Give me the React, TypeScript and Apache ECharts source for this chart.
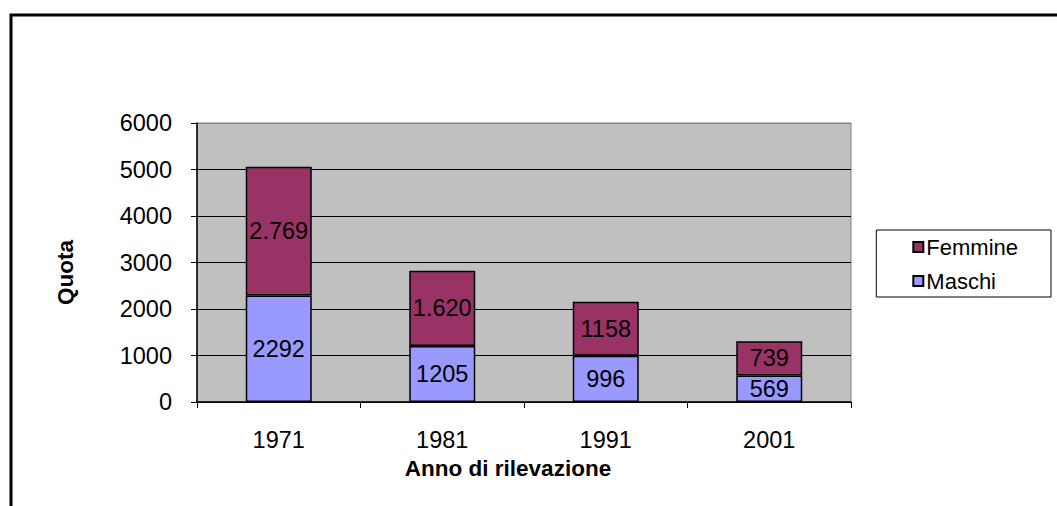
import React, { useEffect, useRef } from "react";
import * as echarts from "echarts";

const categories = ["1971", "1981", "1991", "2001"];
const maschi = [2292, 1205, 996, 569];
const femmine = [2769, 1620, 1158, 739];
const maschiLabels = ["2292", "1205", "996", "569"];
const femmineLabels = ["2.769", "1.620", "1158", "739"];
const yTicks = { min: 0, max: 6000, interval: 1000 };

const FONT = "'Liberation Sans', Arial, sans-serif";

export default function App() {
  const ref = useRef<HTMLDivElement>(null);
  useEffect(() => {
    const chart = echarts.init(ref.current!, null, { renderer: "svg" });
    chart.setOption({
      animation: false,
      backgroundColor: "#fff",
      textStyle: { fontFamily: FONT },
      graphic: [
        {
          type: "rect",
          shape: { x: 11, y: 15, width: 1100, height: 600 },
          style: { fill: "none", stroke: "#000", lineWidth: 3 },
          z: 100,
        },
      ],
      grid: {
        left: 197,
        right: 206,
        top: 123,
        bottom: 104,
        show: true,
        backgroundColor: "#C0C0C0",
        borderColor: "#808080",
        borderWidth: 1,
      },
      legend: {
        orient: "vertical",
        right: 6,
        top: 230,
        data: ["Femmine", "Maschi"],
        itemWidth: 10,
        itemHeight: 10,
        itemGap: 12,
        padding: [6, 33, 5, 36],
        borderColor: "#000",
        borderWidth: 1,
        icon: "rect",
        textStyle: { fontSize: 22, color: "#000", fontFamily: FONT, padding: [0, 0, 0, -2] },
      },
      xAxis: {
        type: "category",
        data: categories,
        name: "Anno di rilevazione",
        nameLocation: "middle",
        nameGap: 55,
        nameTextStyle: {
          fontSize: 22.5,
          fontWeight: "bold",
          color: "#000",
          fontFamily: FONT,
          padding: [0, 32, 0, 0],
        },
        axisLine: { lineStyle: { color: "#000", width: 1.5 } },
        axisTick: { show: true, length: 6, lineStyle: { color: "#000" } },
        axisLabel: { fontSize: 23.5, color: "#000", margin: 26, fontFamily: FONT },
      },
      yAxis: {
        type: "value",
        min: yTicks.min,
        max: yTicks.max,
        interval: yTicks.interval,
        name: "Quota",
        nameLocation: "middle",
        nameGap: 120,
        nameTextStyle: {
          fontSize: 22.5,
          fontWeight: "bold",
          color: "#000",
          fontFamily: FONT,
          padding: [0, 20, 0, 0],
        },
        axisLine: { show: true, lineStyle: { color: "#000", width: 1.5 } },
        axisTick: { show: true, length: 6, lineStyle: { color: "#000" } },
        axisLabel: {
          fontSize: 23.5,
          color: "#000",
          margin: 25,
          fontFamily: FONT,
          formatter: (v: number) => String(v),
        },
        splitLine: {
          show: true,
          lineStyle: { color: ["#000", "#000", "#000", "#000", "#000", "#000", "#808080"], width: 1 },
        },
      },
      series: [
        {
          name: "Maschi",
          type: "bar",
          stack: "tot",
          data: maschi,
          barWidth: 66,
          itemStyle: { color: "#9999FF", borderColor: "#000", borderWidth: 1.5 },
          label: {
            show: true,
            position: "inside",
            color: "#000",
            fontSize: 23.5,
            fontFamily: FONT,
            formatter: (p: any) => maschiLabels[p.dataIndex],
          },
        },
        {
          name: "Femmine",
          type: "bar",
          stack: "tot",
          data: femmine,
          barWidth: 66,
          itemStyle: { color: "#993366", borderColor: "#000", borderWidth: 1.5 },
          label: {
            show: true,
            position: "inside",
            color: "#000",
            fontSize: 23.5,
            fontFamily: FONT,
            formatter: (p: any) => femmineLabels[p.dataIndex],
          },
        },
      ],
    });
    return () => chart.dispose();
  }, []);
  return (
    <div
      ref={ref}
      style={{ position: "fixed", left: 0, top: 0, width: 1057, height: 506 }}
    />
  );
}
